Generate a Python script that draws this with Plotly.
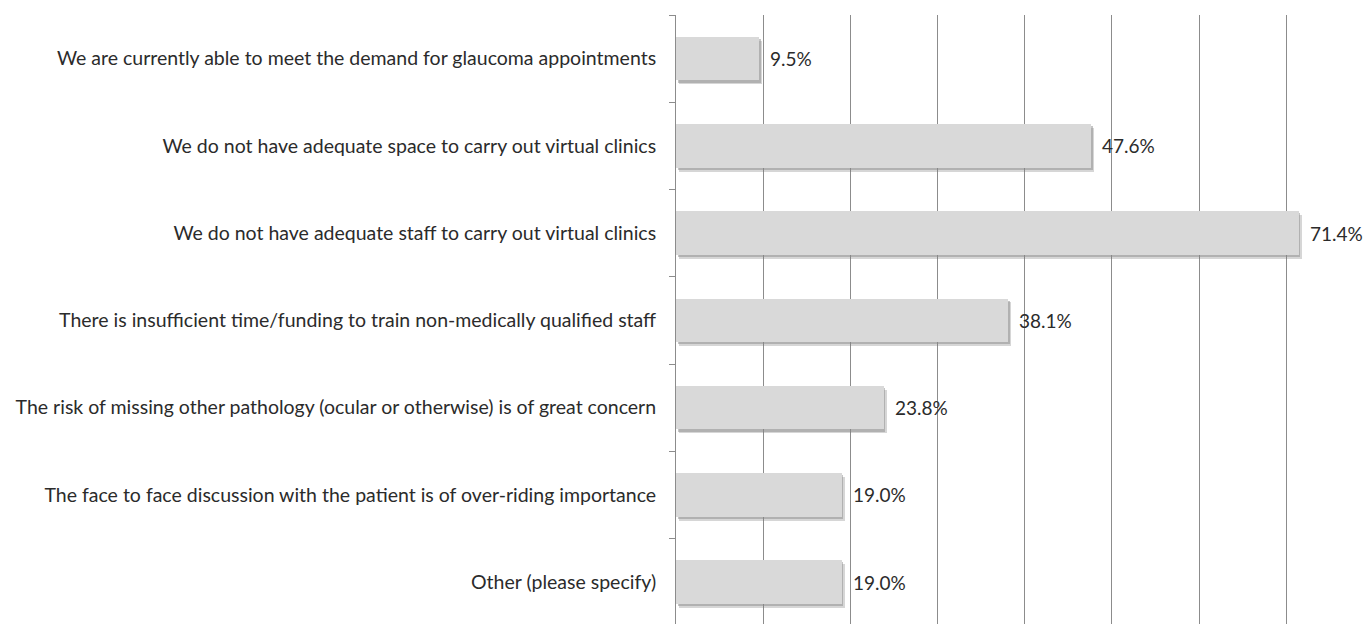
import plotly.graph_objects as go

categories = [
    "We are currently able to meet the demand for glaucoma appointments",
    "We do not have adequate space to carry out virtual clinics",
    "We do not have adequate staff to carry out virtual clinics",
    "There is insufficient time/funding to train non-medically qualified staff",
    "The risk of missing other pathology (ocular or otherwise) is of great concern",
    "The face to face discussion with the patient is of over-riding importance",
    "Other (please specify)",
]
percent = [9.5, 47.6, 71.4, 38.1, 23.8, 19.0, 19.0]
labels = [f"{v:.1f}%" for v in percent]

FONT = "Lato, 'Noto Sans', sans-serif"
TEXT = "#2b2b2b"
BAR_W = 0.5

fig = go.Figure()

# soft drop shadow under each bar (two layers)
for dx, dy, col in [(0.35, 0.045, "rgba(120,120,120,0.3)"), (0.2, 0.025, "rgba(140,140,140,0.5)")]:
    fig.add_trace(go.Bar(
        y=categories, x=percent, base=dx, orientation="h",
        width=BAR_W, offset=-BAR_W / 2 + dy,
        marker=dict(color=col, line_width=0),
        hoverinfo="skip", showlegend=False,
    ))

fig.add_trace(go.Bar(
    y=categories, x=percent, orientation="h",
    width=BAR_W, offset=-BAR_W / 2,
    marker=dict(color="#d9d9d9", line_width=0),
    showlegend=False,
))

for c, v, t in zip(categories, percent, labels):
    fig.add_annotation(
        x=v, y=c, text=t, showarrow=False,
        xanchor="left", xshift=9,
        font=dict(family=FONT, size=19, color=TEXT),
    )

# the plot runs off the right and bottom edges like the original crop
fig.update_layout(
    width=1364, height=624,
    margin=dict(l=676, r=0, t=15, b=0),
    paper_bgcolor="white", plot_bgcolor="white",
    barmode="overlay", bargap=0,
    font=dict(family=FONT, size=19.5, color=TEXT),
)
fig.update_xaxes(
    range=[0, 78.9], dtick=10, showgrid=True, gridcolor="#8c8c8c", gridwidth=1,
    showticklabels=False, zeroline=False, showline=False,
)
fig.update_yaxes(
    type="category", range=[6.48, -0.5],
    showline=True, linecolor="#8c8c8c", linewidth=1,
    ticks="outside", tickson="boundaries", ticklen=6, tickcolor="#8c8c8c",
    ticklabelstandoff=15, showgrid=False,
    tickfont=dict(family=FONT, size=19.5, color=TEXT),
)

# drop the default 8px body margin so the figure fills the window exactly
fig.write_html(
    "out.html",
    config={"displayModeBar": False},
    post_script="document.body.style.margin='0';document.body.style.overflow='hidden';",
)
